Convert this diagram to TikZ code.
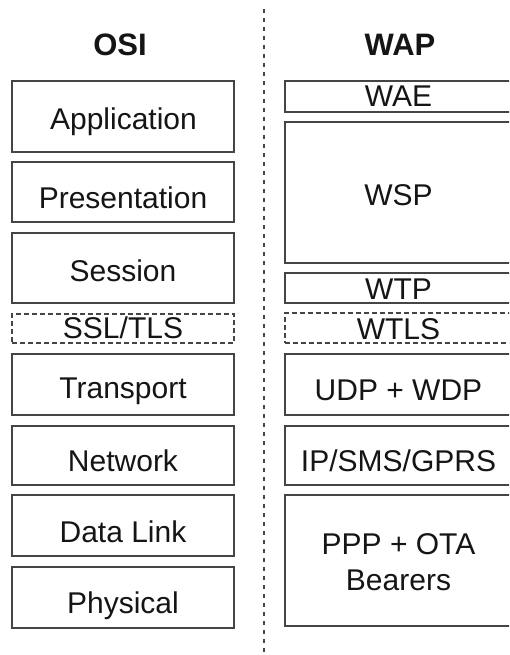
\documentclass[tikz,border=0pt]{standalone}
\usepackage{fontspec}
\setmainfont{Liberation Sans}
\definecolor{edge}{HTML}{454545}
\definecolor{ink}{HTML}{151515}
\begin{document}
\begin{tikzpicture}[x=1pt, y=-1pt,
  layer/.style={draw=edge, line width=1.1pt, rectangle, inner sep=0pt},
  seclayer/.style={layer, dashed, dash pattern=on 5pt off 3pt},
  osibox/.style={minimum width=222pt},
  wapbox/.style={minimum width=227pt},
  lbl/.style={anchor=base, inner sep=0pt, text=ink, font=\fontsize{30}{36}\selectfont},
  head/.style={anchor=base, inner sep=0pt, text=ink, font=\fontsize{31}{36}\selectfont\bfseries}]
  \clip (0,0) rectangle (509,655);
  \fill[white] (0,0) rectangle (509,655);

  % divider between the two stacks
  \coordinate (divtop) at (264,9);
  \coordinate (divbot) at (264,652);
  \draw[edge, line width=1.1pt, dash pattern=on 4pt off 5pt] (divtop) -- (divbot);

  % column headings
  \node[head] (osi) at (120,56) {OSI};
  \node[head] (wap) at (400,56) {WAP};

  % OSI stack
  \node[layer, osibox, minimum height=71pt] (app)  at (123,116.5) {};
  \node[layer, osibox, minimum height=60pt] (pres) at (123,192) {};
  \node[layer, osibox, minimum height=70pt] (sess) at (123,268) {};
  \node[seclayer, osibox, minimum height=29pt] (ssl) at (123,328.5) {};
  \node[layer, osibox, minimum height=61pt] (trans) at (123,384.5) {};
  \node[layer, osibox, minimum height=59pt] (net)  at (123,455.5) {};
  \node[layer, osibox, minimum height=61pt] (dl)   at (123,525.5) {};
  \node[layer, osibox, minimum height=61pt] (phys) at (123,597.5) {};

  \node[lbl] (app-t)   at (123.5,130) {Application};
  \node[lbl] (pres-t)  at (123,208) {Presentation};
  \node[lbl] (sess-t)  at (123,281) {Session};
  \node[lbl] (ssl-t)   at (123,338) {SSL/TLS};
  \node[lbl] (trans-t) at (123,398) {Transport};
  \node[lbl] (net-t)   at (123,471) {Network};
  \node[lbl] (dl-t)    at (123,542) {Data Link};
  \node[lbl] (phys-t)  at (123,613) {Physical};

  % WAP stack (runs past the right margin)
  \node[layer, wapbox, minimum height=31pt]  (wae)  at (398.5,96.5) {};
  \node[layer, wapbox, minimum height=141pt] (wsp)  at (398.5,192.5) {};
  \node[layer, wapbox, minimum height=30pt]  (wtp)  at (398.5,288) {};
  \node[seclayer, wapbox, minimum height=30pt] (wtls) at (398.5,328) {};
  \node[layer, wapbox, minimum height=61pt]  (udp)  at (398.5,384.5) {};
  \node[layer, wapbox, minimum height=59pt]  (ip)   at (398.5,455.5) {};
  \node[layer, wapbox, minimum height=131pt] (ppp)  at (398.5,560.5) {};

  \node[lbl] (wae-t)  at (398.5,107) {WAE};
  \node[lbl] (wsp-t)  at (398.5,205) {WSP};
  \node[lbl] (wtp-t)  at (398.5,299) {WTP};
  \node[lbl] (wtls-t) at (398.5,339) {WTLS};
  \node[lbl] (udp-t)  at (398.5,400) {UDP + WDP};
  \node[lbl] (ip-t)   at (398.5,471) {IP/SMS/GPRS};
  \node[lbl] (ppp-t)  at (398.5,554) {PPP + OTA};
  \node[lbl] (brr-t)  at (398.5,590) {Bearers};
\end{tikzpicture}
\end{document}
